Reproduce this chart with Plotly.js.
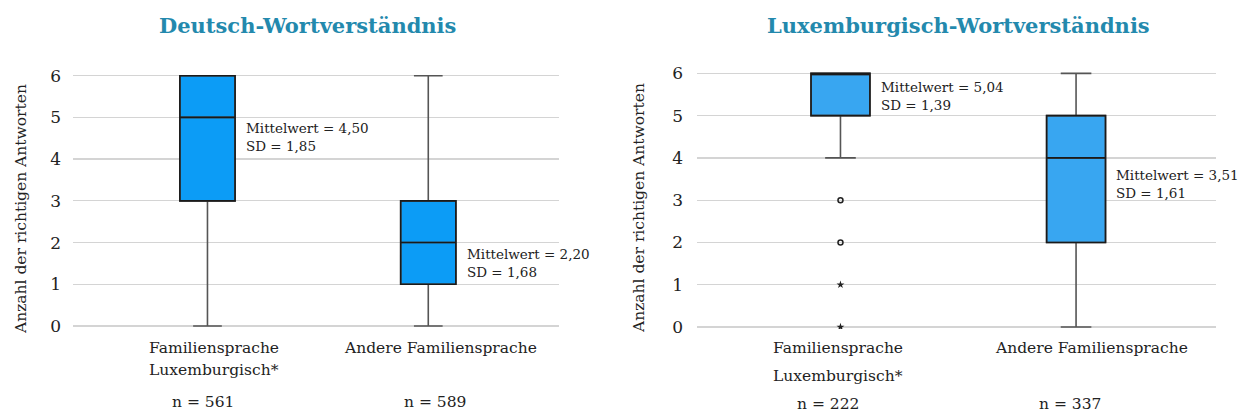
<!DOCTYPE html>
<html>
<head>
<meta charset="utf-8">
<script src="https://cdn.plot.ly/plotly-3.0.1.min.js"></script>
<style>html,body{margin:0;padding:0;background:#fff;}#chart{width:1243px;height:416px;}</style>
</head>
<body>
<div id="chart"></div>
<script>
// ---- data ----
const categories = ['Familiensprache Luxemburgisch*', 'Andere Familiensprache'];
const categoryLine1 = ['Familiensprache', 'Andere Familiensprache'];
const categoryLine2 = ['Luxemburgisch*', ''];
const yTicks = [0, 1, 2, 3, 4, 5, 6];

const deTitle = 'Deutsch-Wortverständnis';
const deQ1 = [3, 1];
const deMedian = [5, 2];
const deQ3 = [6, 3];
const deLower = [0, 0];
const deUpper = [6, 6];
const deMean = ['4,50', '2,20'];
const deSD = ['1,85', '1,68'];
const deN = [561, 589];

const lbTitle = 'Luxemburgisch-Wortverständnis';
const lbQ1 = [5, 2];
const lbMedian = [6, 4];
const lbQ3 = [6, 5];
const lbLower = [4, 0];
const lbUpper = [6, 6];
const lbOutlierCircle = [3, 2];
const lbOutlierStar = [1, 0];
const lbMean = ['5,04', '3,51'];
const lbSD = ['1,39', '1,61'];
const lbN = [222, 337];

const yTitle = 'Anzahl der richtigen Antworten';

// ---- styles ----
const FONT = 'DejaVu Serif, Georgia, serif';
const TXT = '#222';
const TITLE_COL = '#2389ad';

function boxPair(xa, ya, q1, med, q3, lo, hi, fill) {
  return [
    { type: 'box', xaxis: xa, yaxis: ya, x: categories, q1: q1, median: med, q3: q3,
      lowerfence: lo, upperfence: hi, width: 0.25, whiskerwidth: 0.52, boxpoints: false,
      fillcolor: fill, line: { color: '#555555', width: 1.6 }, hoverinfo: 'skip', showlegend: false },
    { type: 'box', xaxis: xa, yaxis: ya, x: categories, q1: q1, median: med, q3: q3,
      lowerfence: q1, upperfence: q3, width: 0.25, whiskerwidth: 0, boxpoints: false,
      fillcolor: 'rgba(0,0,0,0)', line: { color: '#1a1a1a', width: 1.6 }, hoverinfo: 'skip', showlegend: false }
  ];
}

const traces = [
  ...boxPair('x', 'y', deQ1, deMedian, deQ3, deLower, deUpper, '#0c9cf6'),
  ...boxPair('x2', 'y2', lbQ1, lbMedian, lbQ3, lbLower, lbUpper, '#38a6f1'),
  { type: 'scatter', mode: 'markers', xaxis: 'x2', yaxis: 'y2',
    x: lbOutlierCircle.map(() => categories[0]), y: lbOutlierCircle,
    marker: { symbol: 'circle-open', size: 5, color: '#222', line: { width: 1.5 } },
    hoverinfo: 'skip', showlegend: false },
  { type: 'scatter', mode: 'markers', xaxis: 'x2', yaxis: 'y2',
    x: lbOutlierStar.map(() => categories[0]), y: lbOutlierStar,
    marker: { symbol: 'star', size: 6, color: '#222' },
    hoverinfo: 'skip', showlegend: false }
];

function xAxis(domain, range) {
  return { domain: domain, range: range, type: 'category', categoryorder: 'array',
    categoryarray: categories, showticklabels: false, showgrid: false, zeroline: false,
    showline: false, ticks: '', fixedrange: true };
}
function yAxis(domain, anchor, standoff) {
  return { domain: domain, anchor: anchor, range: [-0.05, 6.05], tickvals: yTicks,
    ticks: '', ticklabelstandoff: standoff, showgrid: true, gridcolor: '#d4d4d4', gridwidth: 1.3,
    zeroline: false, showline: false, tickfont: { family: FONT, size: 17, color: TXT }, fixedrange: true };
}

const ann = [];
const font = (s, c) => ({ family: FONT, size: s, color: c || TXT });

// titles
ann.push({ text: '<b>' + deTitle + '</b>', xref: 'paper', yref: 'paper', x: 0.247, y: 1 - 25 / 416,
  xanchor: 'center', yanchor: 'middle', showarrow: false, font: font(21, TITLE_COL) });
ann.push({ text: '<b>' + lbTitle + '</b>', xref: 'paper', yref: 'paper', x: 0.7715, y: 1 - 25 / 416,
  xanchor: 'center', yanchor: 'middle', showarrow: false, font: font(21, TITLE_COL) });

// y titles
ann.push({ text: yTitle, xref: 'paper', yref: 'paper', x: 21 / 1243, y: 1 - 209 / 416, textangle: -90,
  xanchor: 'center', yanchor: 'middle', showarrow: false, font: font(15.5) });
ann.push({ text: yTitle, xref: 'paper', yref: 'paper', x: 639 / 1243, y: 1 - 208 / 416, textangle: -90,
  xanchor: 'center', yanchor: 'middle', showarrow: false, font: font(15.5) });

// stats labels
const deStatY = [4.52, 1.51];
const lbStatY = [5.46, 3.39];
for (let i = 0; i < 2; i++) {
  ann.push({ text: 'Mittelwert = ' + deMean[i] + '<br>SD = ' + deSD[i], xref: 'x', yref: 'y',
    x: i + 0.165, y: deStatY[i], xanchor: 'left', yanchor: 'middle', align: 'left', showarrow: false,
    font: font(13.5) });
  ann.push({ text: 'Mittelwert = ' + lbMean[i] + '<br>SD = ' + lbSD[i], xref: 'x2', yref: 'y2',
    x: i + 0.163, y: lbStatY[i], xanchor: 'left', yanchor: 'middle', align: 'left', showarrow: false,
    font: font(13.5) });
}

// category labels & n
const py = p => 1 - p / 416;
const deLabShift = [7, 12], lbLabShift = [-2, 15];
const deNShift = [-4, 7], lbNShift = [-12, -6];
const LBL = 15.5;
for (let i = 0; i < 2; i++) {
  ann.push({ text: categoryLine1[i], xref: 'x', yref: 'paper', x: i, y: py(348), xshift: deLabShift[i],
    xanchor: 'center', yanchor: 'middle', showarrow: false, font: font(LBL) });
  if (categoryLine2[i]) ann.push({ text: categoryLine2[i], xref: 'x', yref: 'paper', x: i, y: py(370),
    xshift: deLabShift[i], xanchor: 'center', yanchor: 'middle', showarrow: false, font: font(LBL) });
  ann.push({ text: 'n = ' + deN[i], xref: 'x', yref: 'paper', x: i, y: py(402), xshift: deNShift[i],
    xanchor: 'center', yanchor: 'middle', showarrow: false, font: font(LBL) });

  ann.push({ text: categoryLine1[i], xref: 'x2', yref: 'paper', x: i, y: py(348), xshift: lbLabShift[i],
    xanchor: 'center', yanchor: 'middle', showarrow: false, font: font(LBL) });
  if (categoryLine2[i]) ann.push({ text: categoryLine2[i], xref: 'x2', yref: 'paper', x: i, y: py(376),
    xshift: lbLabShift[i], xanchor: 'center', yanchor: 'middle', showarrow: false, font: font(LBL) });
  ann.push({ text: 'n = ' + lbN[i], xref: 'x2', yref: 'paper', x: i, y: py(404), xshift: lbNShift[i],
    xanchor: 'center', yanchor: 'middle', showarrow: false, font: font(LBL) });
}

const layout = {
  width: 1243, height: 416,
  margin: { l: 0, r: 0, t: 0, b: 0 },
  paper_bgcolor: '#fff', plot_bgcolor: '#fff',
  showlegend: false,
  xaxis: xAxis([73 / 1243, 559 / 1243], [-0.609, 1.592]),
  yaxis: yAxis([0.2113, 0.8231], 'x', 11),
  xaxis2: xAxis([697 / 1243, 1216 / 1243], [-0.609, 1.594]),
  yaxis2: yAxis([0.2089, 0.8288], 'x2', 13),
  annotations: ann
};
layout.xaxis2.anchor = 'y2';
layout.xaxis.anchor = 'y';

Plotly.newPlot('chart', traces, layout, { displayModeBar: false, staticPlot: true });
</script>
</body>
</html>
